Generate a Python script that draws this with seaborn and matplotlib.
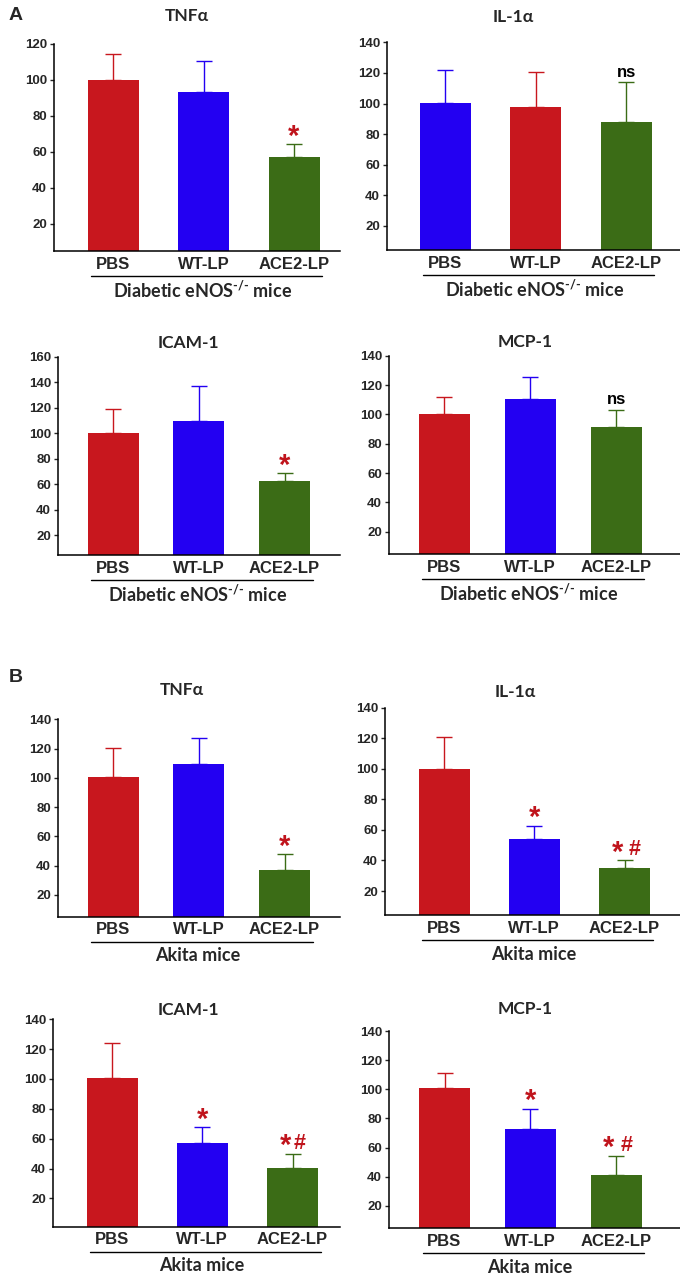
import numpy as np
import pandas as pd
import matplotlib
matplotlib.use("Agg")
import matplotlib.pyplot as plt
import seaborn as sns
from matplotlib.lines import Line2D

sns.set_style("ticks")
plt.rcParams["font.family"] = ["Liberation Sans", "DejaVu Sans"]
plt.rcParams["mathtext.fontset"] = "custom"
plt.rcParams["mathtext.rm"] = "Lato:bold"
plt.rcParams["mathtext.default"] = "rm"

W, H = 680, 1281

groups = ["PBS", "WT-LP", "ACE2-LP"]

# A: diabetic eNOS-/- mice (mean, upper error)
a_tnf = [100, 93.5, 57.4]
a_tnf_err = [14.6, 17.0, 7.0]
a_il1 = [100.2, 98, 87.8]
a_il1_err = [21.8, 22.8, 26.2]
a_icam = [100.3, 109.5, 62.6]
a_icam_err = [18.4, 27.7, 6.1]
a_mcp = [100, 110.2, 91.6]
a_mcp_err = [12, 15, 11.6]

# B: Akita mice
b_tnf = [100.7, 109.1, 36.7]
b_tnf_err = [19.8, 18.1, 11.2]
b_il1 = [100, 54.3, 34.9]
b_il1_err = [20.6, 8.5, 5.2]
b_icam = [100.5, 57.3, 40.6]
b_icam_err = [23.9, 10.5, 9.4]
b_mcp = [100.7, 73, 41.5]
b_mcp_err = [10.5, 13.7, 13]

RED, BLUE, GREEN = "#C8171E", "#2300F2", "#3B6C16"
rbg = [RED, BLUE, GREEN]
brg = [BLUE, RED, GREEN]

lab_a = r"Diabetic eNOS$^{\text{-/-}}$ mice"
lab_b = "Akita mice"

# layout in pixels: axis left, right, top (y of ymax), bottom; bar centres first/last
panels = [
    dict(t="TNFα", m=a_tnf, e=a_tnf_err, c=rbg, s=["", "", "*"], g=lab_a,
         box=(54, 340, 44, 251), ymax=120, ylo=5, cx=(113, 294), tx=(187, 16)),
    dict(t="IL-1α", m=a_il1, e=a_il1_err, c=brg, s=["", "", "ns"], g=lab_a,
         box=(387, 680, 42.3, 250), ymax=140, ylo=4.3, cx=(445, 626), tx=(513, 17)),
    dict(t="ICAM-1", m=a_icam, e=a_icam_err, c=rbg, s=["", "", "*"], g=lab_a,
         box=(58, 340, 356.7, 555), ymax=160, ylo=4.3, cx=(113, 284.5), tx=(188, 343)),
    dict(t="MCP-1", m=a_mcp, e=a_mcp_err, c=rbg, s=["", "", "ns"], g=lab_a,
         box=(389, 680, 355.7, 554.3), ymax=140, ylo=4.7, cx=(444, 616), tx=(525, 342)),
    dict(t="TNFα", m=b_tnf, e=b_tnf_err, c=rbg, s=["", "", "*"], g=lab_b,
         box=(58, 340, 719.3, 916.7), ymax=140, ylo=5, cx=(113, 284.5), tx=(182, 690)),
    dict(t="IL-1α", m=b_il1, e=b_il1_err, c=rbg, s=["", "*", "* #"], g=lab_b,
         box=(385, 680, 707.7, 915), ymax=140, ylo=4.3, cx=(444, 624.5), tx=(515, 692)),
    dict(t="ICAM-1", m=b_icam, e=b_icam_err, c=rbg, s=["", "*", "*#"], g=lab_b,
         box=(53, 340, 1019.3, 1226.7), ymax=140, ylo=1, cx=(112, 292.5), tx=(188, 1010)),
    dict(t="MCP-1", m=b_mcp, e=b_mcp_err, c=rbg, s=["", "*", "* #"], g=lab_b,
         box=(389, 680, 1031, 1228.3), ymax=140, ylo=4.7, cx=(444.5, 616), tx=(525, 1009)),
]

fig = plt.figure(figsize=(W / 100, H / 100), dpi=100)
px = 0.72  # points per pixel


def mark(ax, txt, x, y, dx=0, dy=0, size=21, color="#C0141C"):
    ax.annotate(txt, (x, y), xytext=(dx * px, dy), textcoords="offset points",
                ha="center", va="baseline", fontsize=size, fontweight="bold", color=color,
                annotation_clip=False)


for p in panels:
    l, r, top, bot = p["box"]
    ax = fig.add_axes([l / W, 1 - bot / H, (r - l) / W, (bot - top) / H])
    c0, c2 = p["cx"]
    sp = (c2 - c0) / 2
    df = pd.DataFrame({"grp": groups, "val": p["m"]})
    sns.barplot(data=df, x="grp", y="val", hue="grp", palette=p["c"], saturation=1,
                width=51 / sp, legend=False, ax=ax, linewidth=0)
    for i in range(3):
        ytop = p["m"][i] + p["e"][i]
        ax.errorbar(i, p["m"][i], yerr=[[0], [p["e"][i]]], fmt="none", ecolor=p["c"][i],
                    elinewidth=1.0, capsize=6, capthick=1.0, zorder=3)
        mk = p["s"][i]
        if mk == "ns":
            mark(ax, "ns", i, ytop, dy=4, size=12, color="black")
        elif "#" in mk:
            sx, hx = (-7, 10.5) if " " in mk else (-6.5, 7)
            mark(ax, "*", i, ytop, dx=sx, dy=-0.5)
            mark(ax, "#", i, ytop, dx=hx, dy=3.5, size=15.5)
        elif mk:
            mark(ax, "*", i, ytop, dy=-0.5)
    ax.set_xlim((l - c0) / sp, (r - c0) / sp)
    ax.set_ylim(p["ylo"], p["ymax"])
    ax.set_yticks(np.arange(20, p["ymax"] + 1, 20))
    ax.set_xlabel("")
    ax.set_ylabel("")
    sns.despine(ax=ax)
    for s in ["left", "bottom"]:
        ax.spines[s].set_linewidth(1.1)
        ax.spines[s].set_color("black")
    ax.tick_params(axis="y", length=3, width=1, pad=2, labelsize=9.5)
    ax.tick_params(axis="x", length=0, pad=4, labelsize=12)
    for t in ax.get_yticklabels() + ax.get_xticklabels():
        t.set_fontweight("bold")

    # title
    fig.text(p["tx"][0] / W, 1 - p["tx"][1] / H, p["t"], ha="center", va="center",
             fontsize=12.5, fontweight="bold", family=["Lato", "DejaVu Sans"])
    # group line and label
    x0, x1 = c0 - 22, c2 + 28
    yl = bot + 25
    fig.add_artist(Line2D([x0 / W, x1 / W], [1 - yl / H] * 2, color="black", lw=1.0))
    fig.text((x0 + x1) / 2 / W - 4 / W, 1 - (yl + 14) / H, p["g"], ha="center", va="center",
             fontsize=13, fontweight="bold", family=["Lato", "DejaVu Sans"])

fig.text(9 / W, 1 - 16 / H, "A", ha="left", va="center", fontsize=14, fontweight="bold")
fig.text(9 / W, 1 - 677 / H, "B", ha="left", va="center", fontsize=14, fontweight="bold")

fig.savefig("out.png", dpi=100)
